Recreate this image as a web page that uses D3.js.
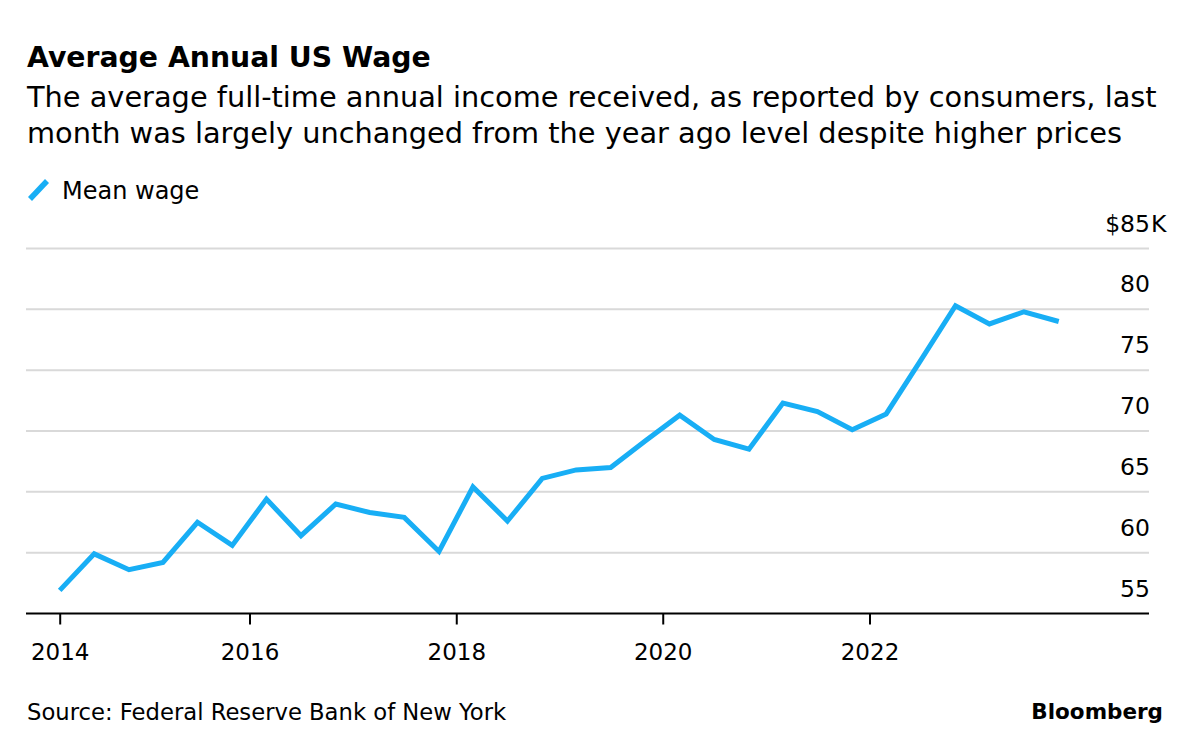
<!DOCTYPE html>
<html>
<head>
<meta charset="utf-8">
<script src="https://cdn.jsdelivr.net/npm/d3@7"></script>
<style>
  html, body { margin: 0; padding: 0; background: #fff; }
  svg text { font-family: "DejaVu Sans", "Liberation Sans", Arial, sans-serif; fill: #000; }
</style>
</head>
<body>
<svg id="chart" width="1200" height="751"></svg>
<script>
// ---- Data ----
const dates = [
  "2014-03","2014-07","2014-11",
  "2015-03","2015-07","2015-11",
  "2016-03","2016-07","2016-11",
  "2017-03","2017-07","2017-11",
  "2018-03","2018-07","2018-11",
  "2019-03","2019-07","2019-11",
  "2020-03","2020-07","2020-11",
  "2021-03","2021-07","2021-11",
  "2022-03","2022-07","2022-11",
  "2023-03","2023-07","2023-11"
];
const meanWage = [
  56.9, 59.9, 58.6,
  59.2, 62.5, 60.6,
  64.4, 61.4, 64.0,
  63.3, 62.9, 60.1,
  65.4, 62.6, 66.1,
  66.8, 67.0, 69.2,
  71.3, 69.3, 68.5,
  72.3, 71.6, 70.1,
  71.4, 75.8, 80.3,
  78.8, 79.8, 79.0
];
const yTicks = [55, 60, 65, 70, 75, 80, 85];
const xTickDates = ["2014-03", "2016-01", "2018-01", "2020-01", "2022-01"];
const seriesName = "Mean wage";
const title = "Average Annual US Wage";
const subtitleLines = [
  "The average full-time annual income received, as reported by consumers, last",
  "month was largely unchanged from the year ago level despite higher prices"
];
const sourceText = "Source: Federal Reserve Bank of New York";
const brand = "Bloomberg";

// ---- Layout ----
const parse = d3.timeParse("%Y-%m");
const data = dates.map((d, i) => ({ date: parse(d), value: meanWage[i] }));
const lineColor = "#18aef5";
const plotLeft = 26, plotRight = 1149;

const svg = d3.select("#chart");

const x = d3.scaleTime()
  .domain([parse("2016-01"), parse("2022-01")])
  .range([249.5, 869.5]);

const y = d3.scaleLinear()
  .domain([55, 85])
  .range([613.5, 248.5]);

// Titles
svg.append("text").attr("x", 27).attr("y", 67)
  .style("font-size", "28.3px").style("font-weight", "bold")
  .text(title);
subtitleLines.forEach((t, i) => {
  svg.append("text").attr("x", 27).attr("y", 107 + i * 36)
    .style("font-size", "28.8px").text(t);
});

// Legend
svg.append("line")
  .attr("x1", 30).attr("y1", 199).attr("x2", 47).attr("y2", 181)
  .attr("stroke", lineColor).attr("stroke-width", 5.5).attr("stroke-linecap", "butt");
svg.append("text").attr("x", 62).attr("y", 199)
  .style("font-size", "24px").text(seriesName);

// Gridlines
const grid = svg.append("g");
grid.selectAll("line").data(yTicks.filter(v => v !== 55)).enter().append("line")
  .attr("x1", plotLeft).attr("x2", plotRight)
  .attr("y1", d => y(d)).attr("y2", d => y(d))
  .attr("stroke", "#d9d9d9").attr("stroke-width", 2);

// Y labels (right, above gridlines); top label gets "$" prefix and dangling "K"
const yl = svg.append("g");
yl.selectAll("text.num").data(yTicks).enter().append("text")
  .attr("class", "num")
  .attr("x", 1150).attr("y", d => y(d) - 17)
  .attr("text-anchor", "end")
  .style("font-size", "23.5px")
  .text(d => d === 85 ? "$" + d : d);
yl.append("text")
  .attr("x", 1151).attr("y", y(85) - 17)
  .style("font-size", "23.5px")
  .text("K");

// X axis
const xAxis = d3.axisBottom(x)
  .tickValues(xTickDates.map(parse))
  .tickSize(11)
  .tickFormat(d3.timeFormat("%Y"));
const gx = svg.append("g").attr("transform", `translate(0,${y(55)})`).call(xAxis);
gx.select(".domain").remove();
gx.selectAll(".tick line").attr("stroke", "#000").attr("stroke-width", 2);
gx.selectAll(".tick text")
  .attr("y", 46).attr("dy", null)
  .style("font-size", "23px").style("font-family", "DejaVu Sans").attr("fill", "#000");
svg.append("line")
  .attr("x1", plotLeft).attr("x2", plotRight)
  .attr("y1", y(55)).attr("y2", y(55))
  .attr("stroke", "#000").attr("stroke-width", 2);

// Line
const line = d3.line().x(d => x(d.date)).y(d => y(d.value));
svg.append("path").datum(data)
  .attr("d", line)
  .attr("fill", "none")
  .attr("stroke", lineColor)
  .attr("stroke-width", 5)
  .attr("stroke-linejoin", "miter")
  .attr("stroke-linecap", "butt");

// Footer
svg.append("text").attr("x", 27).attr("y", 720)
  .style("font-size", "22.7px").text(sourceText);
svg.append("text").attr("x", 1163).attr("y", 719)
  .attr("text-anchor", "end")
  .style("font-size", "21.5px").style("font-weight", "bold")
  .text(brand);
</script>
</body>
</html>
